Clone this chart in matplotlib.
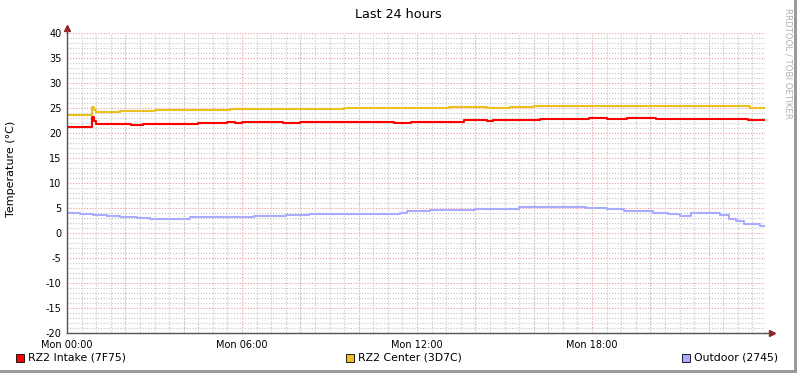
import matplotlib
matplotlib.use("Agg")
import matplotlib.pyplot as plt
from matplotlib.patches import Rectangle
from matplotlib.ticker import MultipleLocator

# ---- data (hours since Mon 00:00, temperature in °C) ----
red_h = [0.0, 0.86, 0.93, 1.0, 2.2, 2.6, 3.0, 4.5, 5.5, 5.75, 6.0, 7.4, 7.7, 8.0, 10.3, 10.8,
         11.2, 11.8, 13.6, 14.4, 14.6, 15.2, 16.2, 16.6, 17.9, 18.5, 19.2, 20.2, 20.8, 23.35, 23.93]
red_v = [21.3, 23.2, 22.4, 21.8, 21.7, 21.8, 21.85, 22.05, 22.2, 22.05, 22.15, 22.0, 22.1, 22.15,
         22.3, 22.2, 22.1, 22.3, 22.6, 22.5, 22.7, 22.6, 22.8, 22.75, 23.0, 22.9, 23.0, 22.9, 22.9,
         22.7, 22.7]

yel_h = [0.0, 0.86, 0.93, 1.0, 1.8, 2.5, 3.0, 4.0, 5.6, 6.5, 8.0, 9.5, 10.5, 12.0, 13.1, 13.6,
         14.4, 15.2, 16.0, 17.0, 18.0, 20.0, 22.0, 23.4, 23.93]
yel_v = [23.7, 25.3, 24.6, 24.3, 24.4, 24.5, 24.55, 24.6, 24.8, 24.85, 24.9, 25.0, 25.05, 25.0,
         25.3, 25.2, 25.1, 25.3, 25.4, 25.35, 25.45, 25.4, 25.45, 25.1, 25.1]

blue_h = [0.0, 0.45, 0.9, 1.37, 1.82, 2.4, 2.85, 4.2, 4.9, 6.4, 7.5, 8.3, 9.8, 11.4, 11.65, 12.45,
          13.3, 14.0, 15.0, 15.5, 17.2, 17.8, 18.5, 19.1, 19.6, 20.1, 20.6, 21.0, 21.4, 22.4, 22.7,
          22.95, 23.2, 23.75, 23.93]
blue_v = [4.0, 3.8, 3.7, 3.4, 3.3, 3.1, 2.9, 3.15, 3.3, 3.4, 3.6, 3.75, 3.9, 4.1, 4.4, 4.6, 4.7,
          4.8, 4.9, 5.3, 5.25, 5.0, 4.8, 4.5, 4.4, 4.1, 3.8, 3.5, 4.0, 3.6, 2.9, 2.4, 1.8, 1.4, 1.4]

series_names = ["RZ2 Intake (7F75)", "RZ2 Center (3D7C)", "Outdoor (2745)"]
series_colors = ["#FF0000", "#ECC01E", "#AAAAFF"]

xtick_pos = [0, 6, 12, 18]
xtick_labels = ["Mon 00:00", "Mon 06:00", "Mon 12:00", "Mon 18:00"]
ytick_vals = list(range(-20, 41, 5))

W, H = 797, 373
fig = plt.figure(figsize=(W / 100, H / 100), dpi=100)
fig.patch.set_facecolor("white")

ax = fig.add_axes([67 / W, (H - 333) / H, 698 / W, 300 / H])
ax.set_xlim(0, 23.93)
ax.set_ylim(-20, 40)
ax.set_facecolor("white")

# grid
ax.xaxis.set_minor_locator(MultipleLocator(0.5))
ax.yaxis.set_minor_locator(MultipleLocator(1))
ax.set_xticks(xtick_pos)
ax.set_xticklabels(xtick_labels, fontsize=7)
ax.set_yticks(ytick_vals)
ax.set_yticklabels([str(v) for v in ytick_vals], fontsize=7)
ax.grid(which="minor", color="#c4c4c4", linestyle=(0, (1, 1.5)), linewidth=0.8)
ax.grid(False, which="major")
for h in range(0, 24, 2):
    ax.axvline(h, color="#eb9a9a", linestyle=(0, (1, 1.5)), linewidth=0.8, zorder=1)
for v in ytick_vals:
    ax.axhline(v, color="#eb9a9a", linestyle=(0, (1, 1.5)), linewidth=0.8, zorder=1)

ax.tick_params(axis="both", which="both", length=0, pad=4)
ax.tick_params(axis="x", pad=5)

for s in ["top", "right"]:
    ax.spines[s].set_visible(False)
for s in ["left", "bottom"]:
    ax.spines[s].set_color("#555555")
    ax.spines[s].set_linewidth(1.0)
    ax.spines[s].set_zorder(5)

# series
for hh, vv, c in zip([red_h, yel_h, blue_h], [red_v, yel_v, blue_v], series_colors):
    ax.plot(hh, vv, drawstyle="steps-post", color=c, linewidth=1.5, zorder=3)

# arrows at axis ends
ax.plot([1.0 + 7 / 698], [0], marker=">", markersize=4, color="#9a2020",
        transform=ax.transAxes, clip_on=False)
ax.plot([0], [1.0 + 5 / 300], marker="^", markersize=4, color="#9a2020",
        transform=ax.transAxes, clip_on=False)
ax.plot([1.0, 1.0 + 5 / 698], [0, 0], color="#555555", linewidth=1.0,
        transform=ax.transAxes, clip_on=False)
ax.plot([0, 0], [1.0, 1.0 + 4 / 300], color="#555555", linewidth=1.0,
        transform=ax.transAxes, clip_on=False)

# title and labels
fig.text(398 / W, 1 - 14 / H, "Last 24 hours", ha="center", va="center", fontsize=9.2)
fig.text(11 / W, 1 - 169 / H, "Temperature (°C)", ha="center", va="center",
         rotation=90, fontsize=8)
fig.text(788 / W, 1 - 8 / H, "RRDTOOL / TOBI OETIKER", ha="center", va="top",
         rotation=270, fontsize=6.2, color="#b0b0b0")

# legend
leg_y = 358
leg_x = [16, 346, 682]
for name, c, lx in zip(series_names, series_colors, leg_x):
    fig.patches.append(Rectangle((lx / W, 1 - (leg_y + 4) / H), 8 / W, 8 / H,
                                 transform=fig.transFigure, facecolor=c,
                                 edgecolor="black", linewidth=0.6))
    fig.text((lx + 12) / W, 1 - leg_y / H, name, ha="left", va="center", fontsize=7.8)

# gray shadow border on right and bottom
fig.patches.append(Rectangle((1 - 3 / W, 0), 3 / W, 1, transform=fig.transFigure,
                             facecolor="#9a9a9a", edgecolor="none"))
fig.patches.append(Rectangle((0, 0), 1, 3 / H, transform=fig.transFigure,
                             facecolor="#9a9a9a", edgecolor="none"))

fig.savefig("out.png", dpi=100)
